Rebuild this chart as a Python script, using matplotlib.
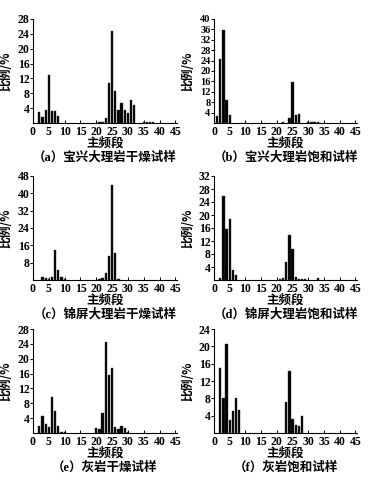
import matplotlib
matplotlib.use('Agg')
import matplotlib.pyplot as plt

plt.rcParams['font.family'] = ['Liberation Serif', 'Noto Sans CJK SC']

# dominant frequency band -> proportion (%)
a_bins = [2, 3, 4, 5, 6, 7, 8, 21, 22, 23, 24, 25, 26, 27, 28, 29, 30, 31, 32, 35, 36, 37, 38]
a_vals = [3.0, 1.6, 3.4, 12.9, 3.2, 3.2, 2.0, 0.2, 0.3, 1.35, 10.7, 24.8, 8.7, 3.6, 5.3, 3.4, 2.7, 6.1, 4.9,
          0.2, 0.2, 0.2, 0.2]

b_bins = [1, 2, 3, 4, 5, 9, 10, 22, 24, 25, 26, 27, 30, 31, 32, 33]
b_vals = [2.7, 24.6, 35.9, 9.0, 3.0, 0.1, 0.1, 0.2, 1.9, 15.8, 3.0, 3.5, 0.2, 0.2, 0.2, 0.2]

c_bins = [3, 4, 5, 6, 7, 8, 9, 10, 21, 22, 23, 24, 25, 26, 27]
c_vals = [1.5, 0.8, 0.5, 1.2, 13.8, 4.6, 1.2, 0.6, 0.3, 0.9, 3.1, 11.0, 44.0, 12.3, 0.5]

d_bins = [2, 3, 4, 5, 6, 7, 21, 22, 23, 24, 25, 26, 27, 28, 29, 33]
d_vals = [0.5, 26.0, 15.6, 18.9, 3.1, 1.5, 0.3, 0.6, 5.5, 14.0, 9.4, 1.0, 0.4, 0.3, 0.3, 0.5]

e_bins = [2, 3, 4, 5, 6, 7, 8, 9, 10, 20, 21, 22, 23, 24, 25, 26, 27, 28, 29, 30]
e_vals = [1.8, 4.5, 2.3, 1.6, 9.8, 6.0, 1.8, 0.4, 0.3, 1.3, 1.0, 5.3, 24.4, 15.5, 17.5, 1.7, 1.1, 1.9, 1.4, 0.4]

f_bins = [2, 3, 4, 5, 6, 7, 8, 23, 24, 25, 26, 27, 28]
f_vals = [15.0, 8.0, 20.6, 3.1, 5.1, 8.1, 5.3, 7.2, 14.4, 3.3, 1.9, 1.6, 4.0]

panels = [
    (a_bins, a_vals, 28, 4, '（a）宝兴大理岩干燥试样'),
    (b_bins, b_vals, 40, 4, '（b）宝兴大理岩饱和试样'),
    (c_bins, c_vals, 48, 8, '（c）锦屏大理岩干燥试样'),
    (d_bins, d_vals, 32, 4, '（d）锦屏大理岩饱和试样'),
    (e_bins, e_vals, 28, 4, '（e）灰岩干燥试样'),
    (f_bins, f_vals, 24, 4, '（f）灰岩饱和试样'),
]

xticks = list(range(0, 50, 5))

W, H = 380, 483
fig = plt.figure(figsize=(W / 100, H / 100), dpi=100)

# axes boxes in pixels: left, top, right, bottom
boxes = [
    (33, 19, 177, 123), (214, 19, 357, 123),
    (33, 176, 177, 280), (214, 176, 357, 280),
    (33, 329, 177, 433), (214, 329, 357, 433),
]

for (bins, vals, ymax, ystep, caption), (l, t, r, b) in zip(panels, boxes):
    ax = fig.add_axes([l / W, 1 - b / H, (r - l) / W, (b - t) / H])
    ax.bar(bins, vals, width=0.72, color='black', edgecolor='#333333', linewidth=0.3)
    ax.set_xlim(0, 45.5)
    ax.set_ylim(0, ymax)
    yt = list(range(ystep, ymax + 1, ystep))
    # labels must fit in the spacing between ticks
    ysize = min(8.5, 0.72 * (b - t) / len(yt))
    ax.set_xticks(xticks)
    ax.set_xticklabels([str(v) for v in xticks], fontsize=8.5, fontweight='bold')
    ax.set_yticks(yt)
    ax.set_yticklabels([str(v) for v in yt], fontsize=ysize, fontweight='bold')
    ax.spines['top'].set_visible(False)
    ax.spines['right'].set_visible(False)
    ax.spines['left'].set_linewidth(0.8)
    ax.spines['bottom'].set_linewidth(0.8)
    ax.tick_params(axis='y', direction='out', length=2, width=0.7, pad=0.5)
    ax.tick_params(axis='x', direction='in', length=2, width=0.7, pad=2)
    ax.set_ylabel('比例/%', fontsize=8.5, fontweight='bold', family=['Noto Sans CJK SC'])
    ax.yaxis.set_label_coords(-0.14, 0.5)
    ax.text(0.5, -0.19, '主频段', transform=ax.transAxes, ha='center', va='center',
            fontsize=9, fontweight='bold', family=['Noto Sans CJK SC'])
    ax.text(0.5, -0.33, caption, transform=ax.transAxes, ha='center', va='center',
            fontsize=9, fontweight='bold')

fig.savefig('out.png', dpi=100)
